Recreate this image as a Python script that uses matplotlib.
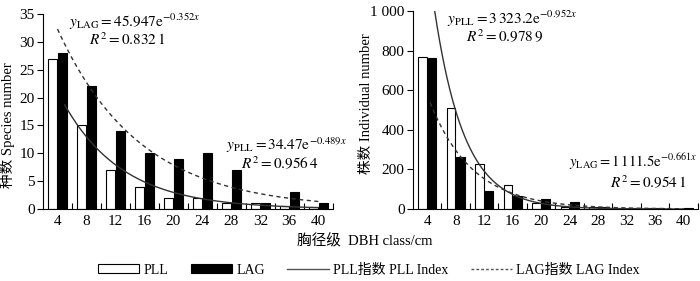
import numpy as np
import matplotlib
matplotlib.use("Agg")
import matplotlib.pyplot as plt
from matplotlib.patches import Patch
from matplotlib.lines import Line2D

plt.rcParams['font.family'] = ['Liberation Serif', 'Noto Sans CJK SC']
plt.rcParams['mathtext.fontset'] = 'stix'

categories = ['4', '8', '12', '16', '20', '24', '28', '32', '36', '40']

species_pll = [27, 15, 7, 4, 2, 2, 1, 1, 0.5, 0.3]
species_lag = [28, 22, 14, 10, 9, 10, 7, 1, 3, 1]

indiv_pll = [770, 510, 225, 120, 30, 12, 12, 5, 3, 2]
indiv_lag = [765, 265, 92, 65, 50, 35, 12, 5, 5, 3]

# fitted trend parameters (a, b) for y = a*exp(-b x)
fit_species_lag = (45.947, 0.352)
fit_species_pll = (34.47, 0.489)
fit_indiv_pll = (3323.2, 0.952)
fit_indiv_lag = (1111.5, 0.661)

fig = plt.figure(figsize=(7.0, 2.81), dpi=100)
ax1 = fig.add_axes([0.0614, 0.256, 0.414, 0.694])
ax2 = fig.add_axes([0.590, 0.256, 0.407, 0.705])

x = np.arange(1, len(categories) + 1)
w = 0.31


def style(ax, ymax, yticks, ylabels):
    for s in ['top', 'right']:
        ax.spines[s].set_visible(False)
    ax.set_xlim(0.5, 10.5)
    ax.set_ylim(0, ymax)
    ax.set_xticks(x)
    ax.set_xticklabels(categories, fontsize=11)
    ax.set_xticks(np.arange(1.5, 11, 1), minor=True)
    ax.tick_params(axis='x', which='major', length=0, pad=4)
    ax.tick_params(axis='x', which='minor', direction='in', length=4, width=0.8)
    ax.set_yticks(yticks)
    ax.set_yticklabels(ylabels, fontsize=11)
    ax.tick_params(axis='y', direction='out', length=4, width=0.8, pad=2)
    for s in ['left', 'bottom']:
        ax.spines[s].set_linewidth(0.8)


# Left chart
ax1.bar(x - 0.165, species_pll, w, color='white', edgecolor='black', linewidth=0.8, zorder=2)
ax1.bar(x + 0.165, species_lag, w, color='black', edgecolor='black', linewidth=0.8, zorder=2)
xl = np.linspace(1, 10, 200)
ax1.plot(xl, fit_species_lag[0] * np.exp(-fit_species_lag[1] * xl), '--', color='#333333', lw=1.0, dashes=(3, 2.5), zorder=3)
xp = np.linspace(1.25, 10, 200)
ax1.plot(xp, fit_species_pll[0] * np.exp(-fit_species_pll[1] * xp), '-', color='#333333', lw=1.0, zorder=3)
style(ax1, 35, np.arange(0, 36, 5), [str(v) for v in range(0, 36, 5)])
ax1.set_ylabel('种数 Species number', fontsize=10.5)
ax1.yaxis.set_label_coords(-0.095, 0.43)

ax1.text(0.09, 0.935, r'$y_{\mathrm{LAG}}=45.947\mathrm{e}^{-0.352x}$', transform=ax1.transAxes, fontsize=11)
ax1.text(0.16, 0.84, r'$R^2=0.832\,1$', transform=ax1.transAxes, fontsize=11)
ax1.text(0.63, 0.305, r'$y_{\mathrm{PLL}}=34.47\mathrm{e}^{-0.489x}$', transform=ax1.transAxes, fontsize=11)
ax1.text(0.685, 0.205, r'$R^2=0.956\,4$', transform=ax1.transAxes, fontsize=11)

# Right chart
ax2.bar(x - 0.165, indiv_pll, w, color='white', edgecolor='black', linewidth=0.8, zorder=2)
ax2.bar(x + 0.165, indiv_lag, w, color='black', edgecolor='black', linewidth=0.8, zorder=2)
xp2 = np.linspace(1.26, 10, 200)
ax2.plot(xp2, fit_indiv_pll[0] * np.exp(-fit_indiv_pll[1] * xp2), '-', color='#333333', lw=1.0, zorder=3, clip_on=True)
xl2 = np.linspace(1.1, 10, 200)
ax2.plot(xl2, fit_indiv_lag[0] * np.exp(-fit_indiv_lag[1] * xl2), '--', color='#333333', lw=1.0, dashes=(3, 2.5), zorder=3)
style(ax2, 1000, np.arange(0, 1001, 200), ['0', '200', '400', '600', '800', '1 000'])
ax2.set_ylabel('株数 Individual number', fontsize=10.5)
ax2.yaxis.set_label_coords(-0.142, 0.53)

ax2.text(0.12, 0.935, r'$y_{\mathrm{PLL}}=3\,323.2\mathrm{e}^{-0.952x}$', transform=ax2.transAxes, fontsize=11)
ax2.text(0.185, 0.84, r'$R^2=0.978\,9$', transform=ax2.transAxes, fontsize=11)
fig.text(0.996, 0.405, r'$y_{\mathrm{LAG}}=1\,111.5\mathrm{e}^{-0.661x}$', ha='right', va='baseline', fontsize=10.5)
ax2.text(0.69, 0.105, r'$R^2=0.954\,1$', transform=ax2.transAxes, fontsize=11)

fig.text(0.521, 0.142, '胸径级  DBH class/cm', ha='center', va='center', fontsize=10.5)

handles = [
    Patch(facecolor='white', edgecolor='black', linewidth=0.8),
    Patch(facecolor='black', edgecolor='black', linewidth=0.8),
    Line2D([], [], color='#555555', lw=1.0),
    Line2D([], [], color='#555555', lw=1.0, ls='--', dashes=(2, 1.5)),
]
labels = ['PLL', 'LAG', 'PLL指数 PLL Index', 'LAG指数 LAG Index']
fig.legend(handles, labels, loc='center', bbox_to_anchor=(0.527, 0.039), ncol=4, frameon=False,
           fontsize=10, handlelength=3.0, handleheight=0.6, handletextpad=0.3, columnspacing=1.6)

fig.savefig('out.png', dpi=100)
